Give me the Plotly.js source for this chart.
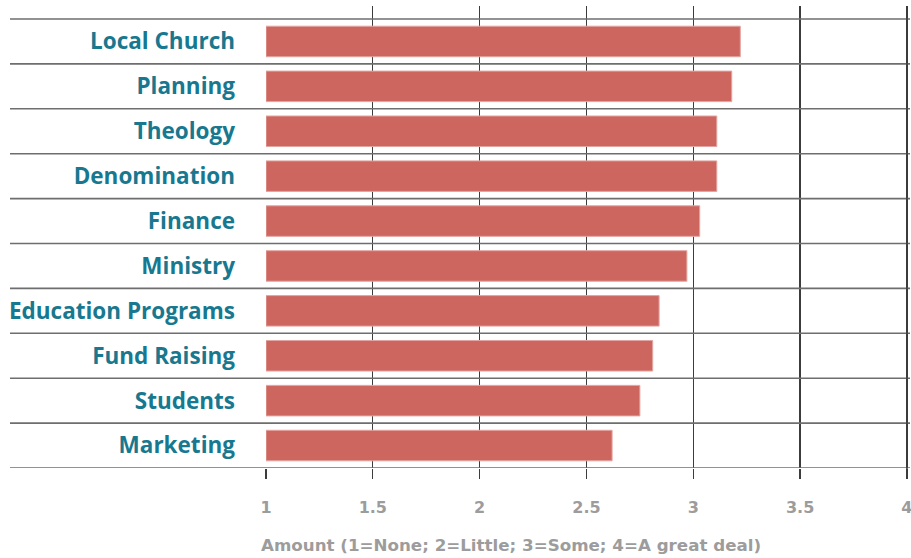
<!DOCTYPE html>
<html>
<head>
<meta charset="utf-8">
<script src="https://cdn.plot.ly/plotly-3.0.1.min.js"></script>
<style>html,body{margin:0;padding:0;background:#fff;overflow:hidden;}#chart{width:911px;height:558px;}</style>
</head>
<body>
<div id="chart"></div>
<script>
const categories = ["Local Church","Planning","Theology","Denomination","Finance","Ministry","Education Programs","Fund Raising","Students","Marketing"];
const values = [3.22, 3.18, 3.11, 3.11, 3.03, 2.97, 2.84, 2.81, 2.75, 2.62];
const tickVals = [1, 1.5, 2, 2.5, 3, 3.5, 4];
const tickText = ["1", "1.5", "2", "2.5", "3", "3.5", "4"];
const xTitle = "Amount (1=None; 2=Little; 3=Some; 4=A great deal)";

const W = 911, H = 558;
const mL = 266, mR = 3, mT = 6;
const n = categories.length;
const catPx = 44.87;
const topExtra = 13 / catPx;
const plotH = (n + topExtra) * catPx;
const mB = H - mT - plotH;
const plotW = W - mL - mR;
const FONT = '"Open Sans", sans-serif';
const FONT2 = '"DejaVu Sans", sans-serif';
const GRID = '#3c3c3c';
const xRange = [1, 4.005];

const shapes = [];
for (let k = -1; k < n; k++) {
  shapes.push({
    type: 'line', xref: 'paper', yref: 'y',
    x0: (10 - mL) / plotW, x1: 1 + 2 / plotW, y0: k + 0.5, y1: k + 0.5,
    line: {color: '#6e6e6e', width: 1.6}, layer: 'above'
  });
}
// last grid line sits near the plot edge; draw it unclipped so it always shows
const lastTick = tickVals[tickVals.length - 1];
const lastPaper = (lastTick - xRange[0]) / (xRange[1] - xRange[0]);
shapes.push({
  type: 'line', xref: 'paper', yref: 'paper',
  x0: lastPaper, x1: lastPaper, y0: -10 / plotH, y1: 1,
  line: {color: GRID, width: 1.6}, layer: 'above'
});

const trace = {
  type: 'bar', orientation: 'h',
  y: categories, x: values.map(v => v - 1), base: 1,
  width: 0.68,
  marker: {color: '#CE6660', line: {color: '#E3A5A1', width: 1}},
  hoverinfo: 'skip'
};

const layout = {
  width: W, height: H,
  margin: {l: mL, r: mR, t: mT, b: mB, pad: 0},
  paper_bgcolor: '#ffffff', plot_bgcolor: '#ffffff',
  showlegend: false,
  bargap: 0,
  xaxis: {
    range: xRange, tickvals: tickVals, ticktext: tickText,
    showgrid: true, gridcolor: GRID, gridwidth: 1.3,
    zeroline: false, showline: false,
    ticks: 'outside', ticklen: 10, tickwidth: 1.3, tickcolor: GRID,
    ticklabelstandoff: 15, ticklabeloverflow: 'allow',
    tickfont: {family: FONT2, size: 16, color: '#9c9c9c', weight: 'bold'},
    fixedrange: true
  },
  yaxis: {
    type: 'category', categoryorder: 'array', categoryarray: categories,
    range: [n - 0.5, -0.5 - topExtra],
    showgrid: false, zeroline: false, showline: false, ticks: '',
    ticklabelstandoff: 30,
    tickfont: {family: FONT, size: 22.5, color: '#17788F', weight: 'bold'},
    fixedrange: true
  },
  shapes: shapes,
  annotations: [{
    text: xTitle, xref: 'paper', yref: 'paper',
    x: (259 - mL) / plotW, xanchor: 'left',
    y: -(545 - (mT + plotH)) / plotH, yanchor: 'middle',
    showarrow: false,
    font: {family: FONT2, size: 16.7, color: '#9c9c9c', weight: 'bold'}
  }]
};

Plotly.newPlot('chart', [trace], layout, {displayModeBar: false, staticPlot: true});
</script>
</body>
</html>
